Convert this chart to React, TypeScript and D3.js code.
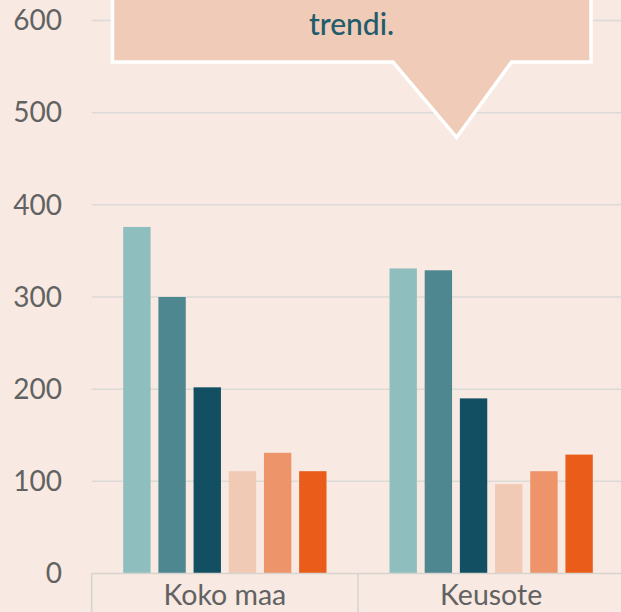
import React from "react";
import * as d3 from "d3";

const categories = ["Koko maa", "Keusote"];
const seriesNames = ["s1", "s2", "s3", "s4", "s5", "s6"];
const kokoMaa = [376, 300, 202, 111, 131, 111];
const keusote = [331, 329, 190, 97, 111, 129];
const values = [kokoMaa, keusote];
const colors = ["#8FBEBE", "#4F8790", "#124F62", "#F0CAB5", "#EE946A", "#EA5C1A"];
const yTicks = [0, 100, 200, 300, 400, 500, 600];
const calloutLines = ["trendi."];

const W = 621;
const H = 612;
const BG = "#F8EAE2";
const FONT = "Lato, 'Open Sans', sans-serif";

export default function App() {
  const left = 91.7;
  const right = 624.3;
  const y = d3.scaleLinear().domain([0, 600]).range([573.5, 20.5]);
  const x0 = d3.scaleBand<string>().domain(categories).range([left, right]).padding(0);
  const x1 = d3
    .scaleBand<string>()
    .domain(seriesNames)
    .range([31.5, x0.bandwidth() - 31.5])
    .paddingInner(0.222)
    .paddingOuter(0);

  const callout = d3.path();
  callout.moveTo(112.5, -20);
  callout.lineTo(591, -20);
  callout.lineTo(591, 62);
  callout.lineTo(511.5, 62);
  callout.lineTo(456.5, 137.5);
  callout.lineTo(393, 62);
  callout.lineTo(112.5, 62);
  callout.closePath();

  return (
    <svg
      width={W}
      height={H}
      style={{ position: "absolute", left: 0, top: 0, display: "block" }}
      fontFamily={FONT}
    >
      <rect x={0} y={0} width={W} height={H} fill={BG} />
      {yTicks.map((t) => (
        <g key={t}>
          {t > 0 && (
            <line x1={left} x2={W} y1={y(t)} y2={y(t)} stroke="#DCDAD6" strokeWidth={1.5} />
          )}
          <text
            x={62}
            y={y(t)}
            dy="0.35em"
            textAnchor="end"
            fontSize={28}
            fill="#626262"
          >
            {t}
          </text>
        </g>
      ))}
      {categories.map((c, ci) => (
        <g key={c} transform={`translate(${x0(c)},0)`}>
          {seriesNames.map((s, si) => (
            <rect
              key={s}
              x={x1(s)}
              y={y(values[ci][si])}
              width={x1.bandwidth()}
              height={y(0) - y(values[ci][si])}
              fill={colors[si]}
            />
          ))}
          <text
            x={x0.bandwidth() / 2}
            y={605}
            textAnchor="middle"
            fontSize={28.5}
            fill="#626262"
          >
            {c}
          </text>
        </g>
      ))}
      <line x1={left} x2={W} y1={y(0)} y2={y(0)} stroke="#D6D4D0" strokeWidth={1.5} />
      {[...categories.map((c) => x0(c) as number), right].map((xv, i) => (
        <line key={i} x1={xv} x2={xv} y1={y(0)} y2={H} stroke="#D6D4D0" strokeWidth={1.5} />
      ))}
      <path d={callout.toString()} fill="#EFCBB8" stroke="#FFFFFF" strokeWidth={3.5} strokeLinejoin="miter" />
      {calloutLines.map((l, i) => (
        <text
          key={i}
          x={351.5}
          y={35 + i * 30}
          textAnchor="middle"
          fontSize={30}
          fontWeight={500}
          fill="#1F5C6B"
        >
          {l}
        </text>
      ))}
    </svg>
  );
}
